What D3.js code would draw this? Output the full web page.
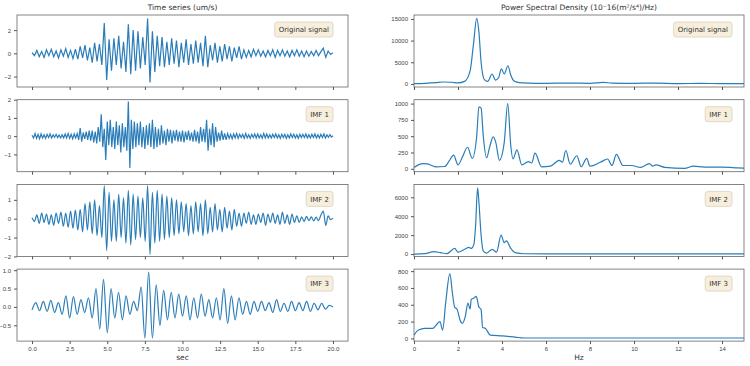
<!DOCTYPE html>
<html>
<head>
<meta charset="utf-8">
<script src="https://cdn.jsdelivr.net/npm/d3@7"></script>
<style>
  body { margin: 0; background: #fff; }
  svg { font-family: "DejaVu Sans", sans-serif; }
  .tick text { fill: #444; }
  .tick line, .domain { stroke: #555; }
</style>
</head>
<body>
<div id="chart"></div>
<script>
// Time series values (extrema, equally spaced over 0..20 s)
const origSignal = [
  0.05,-0.2,0.25,-0.3,0.15,-0.35,0.3,-0.2,0.35,-0.3,0.2,-0.4,0.3,-0.25,0.4,-0.35,0.25,-0.45,0.35,
  -0.5,0.6,-0.4,0.7,-0.6,0.5,-0.8,0.9,-0.7,0.8,-1.0,
  2.6,-2.3,1.2,-1.5,
  1.3,-1.0,1.5,-1.3,1.0,
  -1.6,2.5,-1.8,
  2.0,-1.5,1.9,-1.3,1.4,
  -1.0,3.0,-2.5,
  1.9,-1.6,1.5,-1.1,1.4,-1.2,1.0,
  -1.0,1.3,-0.9,1.1,-1.2,0.9,-0.8,1.2,-1.0,0.8,-0.9,1.1,
  -0.8,0.9,-1.1,1.5,-1.2,0.7,-0.6,
  0.9,-0.8,0.6,-0.7,0.8,-0.5,0.6,-0.7,0.5,-0.4,0.6,-0.5,
  0.3,-0.35,0.25,-0.3,0.35,-0.2,0.3,-0.25,0.2,-0.3,0.25,-0.2,0.3,-0.35,0.25,-0.2,0.3,-0.25,0.2,-0.3,
  0.25,-0.2,0.3,-0.25,0.2,-0.3,0.2,-0.25,0.15,-0.2,0.25,-0.2,0.15,0.45,-0.35,0.2,-0.1,0.05
];
const imf1 = [
  0.05,-0.1,0.15,-0.12,0.1,-0.15,0.12,-0.1,0.08,-0.12,
  0.1,-0.08,0.12,-0.1,0.08,-0.06,0.1,-0.08,0.06,-0.1,
  0.08,-0.1,0.12,-0.1,0.15,-0.12,0.1,-0.15,0.12,-0.1,
  0.15,-0.2,0.45,-0.3,0.2,-0.15,0.25,-0.2,0.3,-0.25,
  0.3,-0.35,0.25,-0.4,0.5,-0.3,1.2,-0.6,0.4,-1.3,
  0.8,-0.5,0.9,-0.6,0.5,-0.7,0.8,-0.5,0.6,-0.9,
  0.7,-0.6,0.5,-0.8,1.9,-1.75,0.9,-0.7,0.8,-0.6,
  0.7,-0.5,0.8,-0.6,0.5,-0.7,0.6,-0.5,0.7,-0.6,
  0.9,-0.7,0.5,-0.6,0.4,-0.5,0.6,-0.4,0.3,-0.5,
  0.4,-0.3,0.35,-0.4,0.3,-0.25,0.35,-0.3,0.25,-0.3,
  0.3,-0.35,0.25,-0.2,0.3,-0.25,0.2,-0.3,0.35,-0.3,
  0.25,-0.4,0.5,-0.3,0.4,-0.35,0.9,-0.8,0.4,-0.5,
  0.7,-0.6,0.5,-0.3,0.2,-0.25,0.3,-0.2,0.15,-0.2,
  0.15,-0.12,0.1,-0.15,0.12,-0.1,0.15,-0.12,0.1,-0.08,
  0.1,-0.12,0.15,-0.1,0.08,-0.12,0.1,-0.08,0.12,-0.1,
  0.12,-0.1,0.08,-0.12,0.15,-0.1,0.12,-0.1,0.08,-0.1,
  0.1,-0.08,0.12,-0.1,0.08,-0.12,0.1,-0.08,0.1,-0.12,
  0.08,-0.1,0.12,-0.08,0.1,-0.1,0.08,-0.12,0.1,-0.08,
  0.1,-0.08,0.12,-0.1,0.08,-0.1,0.1,-0.08,0.12,-0.1,
  0.08,-0.1,0.1,-0.08,0.12,-0.1,0.08,-0.06,0.08,-0.05,0.02
];
const imf2 = [
  0.05,-0.15,0.2,-0.25,0.3,-0.2,0.25,-0.3,0.2,-0.35,0.3,-0.25,0.35,-0.4,0.3,-0.45,0.4,-0.5,0.45,
  -0.6,0.5,-0.7,0.8,-0.6,0.9,-0.8,1.0,-0.9,0.7,-1.0,
  1.75,-1.7,1.4,-1.2,
  1.0,-1.2,1.3,-1.0,1.1,
  -1.3,1.5,-1.4,
  1.3,-1.1,1.2,-1.0,1.1,
  -1.2,1.75,-1.9,
  1.4,-1.3,1.5,-1.2,1.3,-1.1,1.2,
  -1.0,1.1,-0.9,1.0,-0.8,0.9,-0.7,0.8,-0.9,0.7,-0.8,0.9,
  -0.7,0.8,-0.9,1.0,-0.8,0.6,-0.7,
  0.8,-0.6,0.5,-0.7,0.6,-0.5,0.4,-0.6,0.5,-0.4,0.3,-0.4,
  0.3,-0.25,0.35,-0.3,0.2,-0.3,0.25,-0.2,0.3,-0.35,0.25,-0.2,0.3,-0.25,0.2,-0.3,0.35,-0.25,0.2,-0.3,
  0.25,-0.2,0.15,-0.2,0.1,-0.15,0.12,-0.1,0.1,-0.12,0.08,-0.1,0.2,0.4,-0.35,0.15,-0.05,0.02
];
const imf3 = [
  -0.08,0.12,-0.1,0.15,-0.12,0.18,-0.15,0.12,-0.2,0.3,-0.3,0.28,-0.2,0.2,-0.15,0.25,-0.3,
  0.5,-0.6,0.75,-0.7,0.5,-0.3,0.4,-0.35,0.3,-0.2,0.15,-0.1,
  0.55,-0.85,0.95,-0.85,0.6,-0.5,0.45,-0.35,0.4,-0.3,0.35,-0.25,
  0.3,-0.35,0.25,-0.3,0.35,-0.25,0.2,-0.3,0.25,-0.35,
  0.5,-0.45,0.3,-0.35,0.25,-0.2,0.15,-0.2,0.15,-0.12,
  0.15,-0.1,0.12,-0.15,0.2,-0.12,0.1,-0.12,0.15,-0.1,0.12,-0.1,0.15,-0.12,0.1,-0.08,0.1,-0.06,0.04,0.0
];

// Power spectral density, [Hz, value]
const psdOrig = [[0,100],[0.5,150],[1.0,300],[1.3,450],[1.7,400],[2.0,250],[2.3,600],[2.55,3000],[2.7,9000],
  [2.85,15100],[2.95,12000],[3.05,5000],[3.2,1000],[3.35,600],[3.55,2300],[3.7,900],[3.85,1500],[3.97,3500],
  [4.1,2300],[4.27,4200],[4.4,2000],[4.55,700],[4.8,300],[5.2,200],[6,150],[7,200],[8,150],[8.6,350],[9,200],
  [10,150],[11,200],[12,100],[13,120],[14,100],[15,100]];
const psdImf1 = [[0,20],[0.2,60],[0.4,80],[0.6,75],[0.8,50],[1.0,30],[1.4,35],[1.6,120],[1.8,210],[2.0,60],
  [2.2,180],[2.43,330],[2.65,160],[2.85,500],[2.95,950],[3.05,930],[3.15,500],[3.3,170],[3.45,350],[3.6,490],
  [3.72,400],[3.88,130],[4.1,400],[4.26,1000],[4.4,350],[4.5,150],[4.68,290],[4.9,60],[5.2,110],[5.35,90],
  [5.5,240],[5.8,30],[6.2,40],[6.6,130],[6.75,100],[6.9,280],[7.1,70],[7.4,200],[7.6,30],[7.85,160],[8.0,40],
  [8.47,100],[8.8,150],[9.0,50],[9.2,220],[9.5,50],[9.9,50],[10.3,20],[10.7,80],[10.85,40],[11.0,60],[11.4,20],
  [12.3,5],[12.7,40],[13.2,25],[14,25],[14.7,15],[15,10]];
const psdImf2 = [[0,0],[0.5,50],[0.9,250],[1.2,150],[1.5,50],[1.85,600],[2.0,200],[2.3,500],[2.5,700],[2.6,600],
  [2.72,1000],[2.8,3000],[2.89,7000],[2.95,5500],[3.05,2000],[3.15,300],[3.3,100],[3.56,500],[3.75,200],
  [3.96,2000],[4.1,1200],[4.2,1400],[4.4,600],[4.6,150],[5,30],[6,10],[15,10]];
const psdImf3 = [[0,40],[0.2,100],[0.5,120],[0.85,120],[1.18,200],[1.3,100],[1.45,450],[1.63,770],[1.75,530],
  [1.85,370],[1.95,350],[2.12,200],[2.2,180],[2.33,260],[2.45,420],[2.55,350],[2.6,460],[2.72,480],[2.83,500],
  [2.94,380],[3.05,340],[3.12,130],[3.24,120],[3.47,40],[4,30],[4.6,15],[5,5],[15,5]];

const labels = ["Original signal", "IMF 1", "IMF 2", "IMF 3"];
const timeSeries = [origSignal, imf1, imf2, imf3];
const psdSeries = [psdOrig, psdImf1, psdImf2, psdImf3];

// y ranges and ticks per row
const tsDomains = [[-2.9, 3.3], [-1.95, 2.0], [-2.0, 1.82], [-0.93, 1.03]];
const tsTicks = [[-2, 0, 2], [-1, 0, 1, 2], [-2, -1, 0, 1], [-0.5, 0.0, 0.5, 1.0]];
const psdDomains = [[-700, 15900], [-45, 1060], [-250, 7360], [-32, 824]];
const psdTicks = [[0, 5000, 10000, 15000], [0, 250, 500, 750, 1000], [0, 2000, 4000, 6000], [0, 200, 400, 600, 800]];
const timeTicks = [0, 2.5, 5, 7.5, 10, 12.5, 15, 17.5, 20];
const freqTicks = [0, 2, 4, 6, 8, 10, 12, 14];

const width = 750, height = 366;
const leftX = [17, 348], rightX = [414, 744];
const rowTop = i => 15 + i * 84.7;
const rowH = 72;
const blue = "#2a7db8";

const svg = d3.select("#chart").append("svg").attr("width", width).attr("height", height);

const xTime = d3.scaleLinear().domain([-1, 21]).range(leftX);
const xFreq = d3.scaleLinear().domain([0, 15]).range(rightX);

function legendBox(g, text, xRight, y) {
  const t = g.append("text").attr("x", 0).attr("y", 0).attr("font-size", 7).attr("fill", "#333").text(text);
  const w = t.node().getComputedTextLength();
  g.insert("rect", "text")
    .attr("x", xRight - w - 8).attr("y", y).attr("width", w + 8).attr("height", 15)
    .attr("rx", 2.5).attr("fill", "#f7efdc").attr("stroke", "#d6d0c0").attr("stroke-width", 0.8);
  t.attr("x", xRight - w - 4).attr("y", y + 10.2);
}

function panel(xScale, xr, data, domain, ticks, xTicks, i, isTime) {
  const top = rowTop(i), bottom = top + rowH;
  const y = d3.scaleLinear().domain(domain).range([bottom, top]);
  const g = svg.append("g");

  // line
  const line = d3.line().curve(d3.curveMonotoneX);
  if (isTime) {
    const n = data.length;
    line.x((d, k) => xScale(k * 20 / (n - 1))).y(d => y(d));
    if (i < 2) line.curve(d3.curveLinear);
  } else {
    line.x(d => xScale(d[0])).y(d => y(d[1]));
  }
  g.append("defs").append("clipPath").attr("id", "clip" + i + isTime)
    .append("rect").attr("x", xr[0]).attr("y", top).attr("width", xr[1] - xr[0]).attr("height", rowH);
  g.append("path").datum(data).attr("clip-path", `url(#clip${i}${isTime})`)
    .attr("fill", "none").attr("stroke", blue).attr("stroke-width", 1.2).attr("d", line);

  // frame
  g.append("rect").attr("x", xr[0]).attr("y", top).attr("width", xr[1] - xr[0]).attr("height", rowH)
    .attr("fill", "none").attr("stroke", "#666").attr("stroke-width", 0.8);

  // y axis
  const yAxis = d3.axisLeft(y).tickValues(ticks).tickSize(3).tickPadding(3).tickSizeOuter(0)
    .tickFormat(isTime && i === 3 ? d3.format(".1f") : d3.format("d"));
  const ya = g.append("g").attr("transform", `translate(${xr[0]},0)`).call(yAxis);
  ya.select(".domain").remove();
  ya.selectAll("text").attr("font-size", 6);

  // x axis
  const xAxis = d3.axisBottom(xScale).tickValues(xTicks).tickSize(3).tickPadding(3).tickSizeOuter(0)
    .tickFormat(isTime ? d3.format(".1f") : d3.format("d"));
  const xa = g.append("g").attr("transform", `translate(0,${bottom})`).call(xAxis);
  xa.select(".domain").remove();
  xa.selectAll("text").attr("font-size", 6);
  if (i < 3) xa.selectAll("text").remove();

  legendBox(g.append("g"), labels[i], xr[1] - (isTime ? 15 : 12), top + 7);
}

for (let i = 0; i < 4; i++) {
  panel(xTime, leftX, timeSeries[i], tsDomains[i], tsTicks[i], timeTicks, i, true);
  panel(xFreq, rightX, psdSeries[i], psdDomains[i], psdTicks[i], freqTicks, i, false);
}

// titles and axis labels
svg.append("text").attr("x", (leftX[0] + leftX[1]) / 2).attr("y", 10).attr("text-anchor", "middle")
  .attr("font-size", 7.5).attr("fill", "#333").text("Time series (um/s)");
svg.append("text").attr("x", (rightX[0] + rightX[1]) / 2).attr("y", 10).attr("text-anchor", "middle")
  .attr("font-size", 7.5).attr("fill", "#333").text("Power Spectral Density (10⁻16(m²/s⁴)/Hz)");
svg.append("text").attr("x", (leftX[0] + leftX[1]) / 2).attr("y", 360).attr("text-anchor", "middle")
  .attr("font-size", 7.5).attr("fill", "#333").text("sec");
svg.append("text").attr("x", (rightX[0] + rightX[1]) / 2).attr("y", 360).attr("text-anchor", "middle")
  .attr("font-size", 7.5).attr("fill", "#333").text("Hz");
</script>
</body>
</html>
